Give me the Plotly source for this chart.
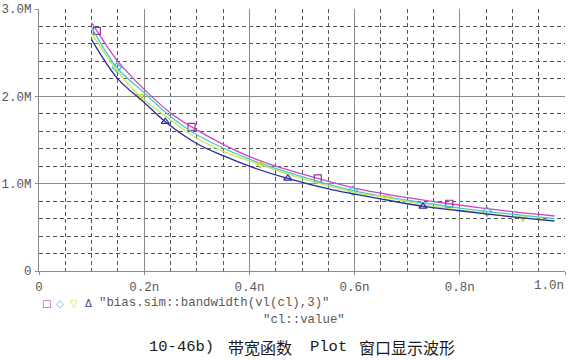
import plotly.graph_objects as go

# ---- data (x in n, y in M) ----
x_tick_vals = [0, 0.2, 0.4, 0.6, 0.8, 1.0]
x_tick_text = ["0", "0.2n", "0.4n", "0.6n", "0.8n", "1.0n"]
y_tick_vals = [0, 1, 2, 3]
y_tick_text = ["0", "1.0M", "2.0M", "3.0M"]

mag_x = [0.10, 0.11, 0.15, 0.20, 0.25, 0.29, 0.35, 0.40, 0.45, 0.53, 0.60, 0.70, 0.78, 0.90, 0.98]
mag_y = [2.84, 2.75, 2.40, 2.08, 1.81, 1.65, 1.45, 1.31, 1.20, 1.06, 0.95, 0.84, 0.77, 0.68, 0.63]
mag_mx = [0.11, 0.29, 0.53, 0.78]
mag_my = [2.75, 1.65, 1.06, 0.77]

cyan_x = [0.10, 0.148, 0.20, 0.25, 0.30, 0.40, 0.50, 0.597, 0.70, 0.80, 0.852, 0.90, 0.98]
cyan_y = [2.79, 2.33, 2.04, 1.77, 1.56, 1.28, 1.08, 0.92, 0.81, 0.72, 0.68, 0.65, 0.60]
cyan_mx = [0.148, 0.597, 0.852]
cyan_my = [2.33, 0.92, 0.68]

yel_x = [0.10, 0.15, 0.192, 0.25, 0.30, 0.35, 0.42, 0.50, 0.60, 0.662, 0.75, 0.85, 0.92, 0.98]
yel_y = [2.72, 2.28, 2.00, 1.73, 1.52, 1.37, 1.22, 1.06, 0.90, 0.84, 0.74, 0.66, 0.61, 0.58]
yel_mx = [0.192, 0.42, 0.662, 0.92]
yel_my = [2.00, 1.22, 0.84, 0.61]

blue_x = [0.10, 0.15, 0.20, 0.24, 0.30, 0.35, 0.40, 0.473, 0.55, 0.60, 0.70, 0.73, 0.80, 0.90, 0.98]
blue_y = [2.65, 2.20, 1.93, 1.71, 1.46, 1.32, 1.20, 1.06, 0.94, 0.88, 0.77, 0.74, 0.69, 0.62, 0.57]
blue_mx = [0.24, 0.473, 0.73]
blue_my = [1.71, 1.06, 0.74]

legend_label = '"bias.sim::bandwidth(vl(cl),3)"'
legend_label2 = '"cl::value"'
title_parts = ["10-46b)", "带宽函数", "Plot", "窗口显示波形"]

MONO = "Liberation Mono, Courier New, monospace"
CJK = "Noto Sans CJK SC"
GRAY = "#5a5a5a"

L, R, T, B = 39, 5, 9, 89
W, H = 570, 360
PW, PH = W - L - R, H - T - B


def px(x):
    return (x - L) / PW


def py(y):
    return (H - B - y) / PH


fig = go.Figure()

series = [
    (mag_x, mag_y, mag_mx, mag_my, "#cc44cc", "#993399", "square-open"),
    (cyan_x, cyan_y, cyan_mx, cyan_my, "#44cccc", "#44bbcc", "diamond-open"),
    (yel_x, yel_y, yel_mx, yel_my, "#c4e654", "#b8d840", "triangle-down-open"),
    (blue_x, blue_y, blue_mx, blue_my, "#2a2aa0", "#2a2aa0", "triangle-up-open"),
]
for lx, ly, mx, my, lc, mc, sym in series:
    fig.add_trace(go.Scatter(x=lx, y=ly, mode="lines", line=dict(color=lc, width=1.3, shape="spline"),
                             showlegend=False, hoverinfo="skip"))
    fig.add_trace(go.Scatter(x=mx, y=my, mode="markers",
                             marker=dict(symbol=sym, size=7, color=mc, line=dict(width=1.2, color=mc)),
                             showlegend=False, hoverinfo="skip"))

axis_common = dict(
    automargin=False,
    showgrid=True, gridcolor="#8a8a8a", gridwidth=1,
    showline=True, linecolor="#8a8a8a", linewidth=1,
    ticks="outside", ticklen=3, tickcolor="#8a8a8a",
    zeroline=False,
    tickfont=dict(family=MONO, size=12.5, color=GRAY),
)

fig.update_layout(
    width=W, height=H,
    margin=dict(l=L, r=R, t=T, b=B),
    paper_bgcolor="white", plot_bgcolor="white",
    font=dict(family=MONO, size=12, color=GRAY),
    xaxis=dict(range=[0, 1.0], tickvals=x_tick_vals, ticktext=x_tick_text[:-1] + [""],
               ticklabelstandoff=1,
               minor=dict(dtick=0.05, showgrid=True, gridcolor="#555555", griddash="4px,3px", gridwidth=1),
               **axis_common),
    yaxis=dict(range=[0, 3.0], tickvals=y_tick_vals, ticktext=y_tick_text,
               ticklabelstandoff=1,
               minor=dict(dtick=0.2, showgrid=True, gridcolor="#555555", griddash="4px,3px", gridwidth=1),
               **axis_common),
)

annots = []
annots.append(dict(x=px(566), y=py(286), xref="paper", yref="paper", text=x_tick_text[-1], showarrow=False,
                   xanchor="right", yanchor="middle",
                   font=dict(family=MONO, size=12.5, color=GRAY)))
# legend symbols
for sx, sym, col in [(46, "□", "#aa33aa"), (60, "◇", "#55c8cc"), (74, "▽", "#c8e040"), (88, "Δ", "#3344aa")]:
    annots.append(dict(x=px(sx), y=py(303), xref="paper", yref="paper", text=sym, showarrow=False,
                       xanchor="center", yanchor="middle",
                       font=dict(family="DejaVu Sans", size=10, color=col)))
annots.append(dict(x=px(97), y=py(303), xref="paper", yref="paper", text=legend_label, showarrow=False,
                   xanchor="left", yanchor="middle", font=dict(family=MONO, size=12.4, color=GRAY)))
annots.append(dict(x=px(261), y=py(320), xref="paper", yref="paper", text=legend_label2, showarrow=False,
                   xanchor="left", yanchor="middle", font=dict(family=MONO, size=12.4, color=GRAY)))
# caption below the chart, in segments
for part, left, fam, fs in [(title_parts[0], 147, MONO, 15.5), (title_parts[1], 226, CJK, 16),
                            (title_parts[2], 308, MONO, 15.5), (title_parts[3], 357, CJK, 16)]:
    annots.append(dict(x=px(left), y=py(347), xref="paper", yref="paper", text=part, showarrow=False,
                       xanchor="left", yanchor="middle",
                       font=dict(family=fam, size=fs, color="#1a1a1a")))
fig.update_layout(annotations=annots)

fig.write_html("out.html", config={"displayModeBar": False},
               post_script="document.body.style.margin='0';document.body.style.overflow='hidden';")
